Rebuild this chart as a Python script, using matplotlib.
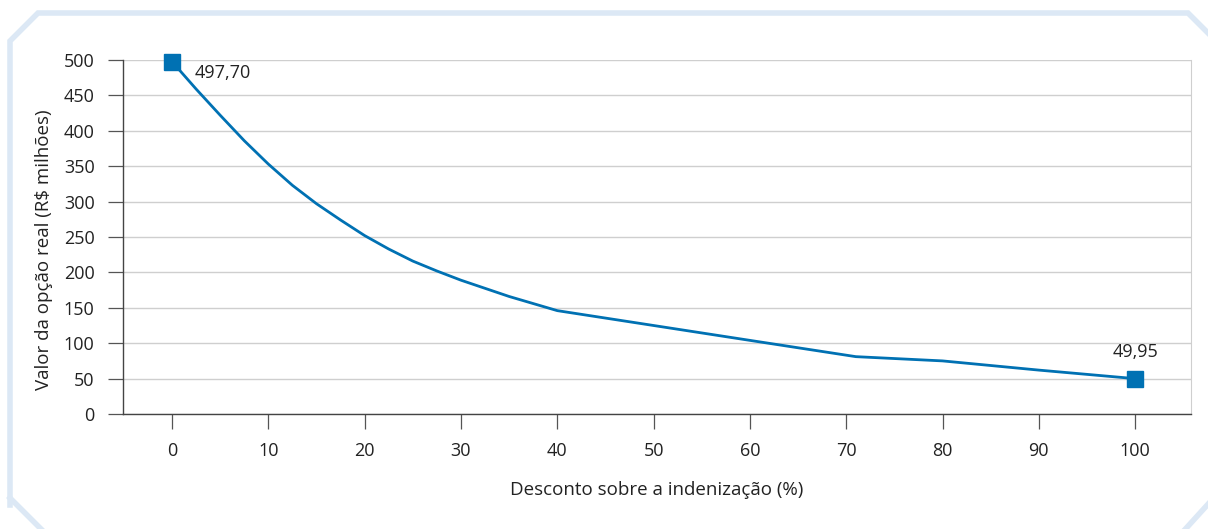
import matplotlib
matplotlib.use("Agg")
import matplotlib.pyplot as plt
from matplotlib.lines import Line2D

plt.rcParams['font.family'] = ['Open Sans', 'DejaVu Sans']

# desconto (%) e valor da opção real (R$ milhões)
desconto = [0, 2.5, 5, 7.5, 10, 12.5, 15, 17.5, 20, 22.5, 25, 27.5, 30, 35, 40,
            50, 60, 71, 80, 90, 100]
valor = [497.70, 459, 422, 386, 353, 323, 297, 274, 252, 233, 216, 202, 189, 166, 146,
         125, 104, 81, 75, 62, 49.95]
yticks = [0, 50, 100, 150, 200, 250, 300, 350, 400, 450, 500]
xticks = [0, 10, 20, 30, 40, 50, 60, 70, 80, 90, 100]

BLUE = "#0071b3"
TXT = "#222222"
W, H = 1208, 529

fig = plt.figure(figsize=(W / 100, H / 100), dpi=100)
ax = fig.add_axes([123 / W, 1 - 414 / H, (1191 - 123) / W, (414 - 60) / H])

ax.plot(desconto, valor, color=BLUE, linewidth=2.0, zorder=3, clip_on=False,
        solid_joinstyle="round")
ax.plot([desconto[0], desconto[-1]], [valor[0], valor[-1]], linestyle="none",
        marker="s", markersize=11, color=BLUE, zorder=4, clip_on=False)

ax.annotate("497,70", (desconto[0], valor[0]), xytext=(16, -8), textcoords="offset points",
            ha="left", va="center", fontsize=13, color=TXT)
ax.annotate("49,95", (desconto[-1], valor[-1]), xytext=(0, 19), textcoords="offset points",
            ha="center", va="center", fontsize=13, color=TXT)

ax.set_xlim(-5.09, 105.8)
ax.set_ylim(0, 500)
ax.set_xticks(xticks)
ax.set_yticks(yticks)
ax.grid(True, axis="y", color="#cfcfcf", linewidth=1.0)
ax.set_axisbelow(True)

ax.spines["top"].set_visible(False)
ax.spines["right"].set_color("#cfcfcf")
ax.spines["left"].set_color("#444444")
ax.spines["bottom"].set_color("#444444")
ax.spines["left"].set_linewidth(1.0)
ax.spines["bottom"].set_linewidth(1.0)

ax.tick_params(axis="both", direction="out", length=10.5, width=0.9, color="#555555",
               labelsize=13, labelcolor=TXT, pad=10)

ax.set_xlabel("Desconto sobre a indenização (%)", fontsize=13.5, color=TXT)
ax.set_ylabel("Valor da opção real (R$ milhões)", fontsize=13.5, color=TXT)
ax.xaxis.set_label_coords(0.5, -0.19)
ax.yaxis.set_label_coords(-0.066, 0.463)

# moldura
FRAME = "#dce8f5"
def px(pts):
    return [p[0] / W for p in pts], [1 - p[1] / H for p in pts]

for pts in [[(10, 505), (10, 41), (38, 13), (1188, 13), (1230, 55)],
            [(10, 498), (45, 533)],
            [(1230, 480), (1180, 535)]]:
    xs, ys = px(pts)
    fig.add_artist(Line2D(xs, ys, transform=fig.transFigure, color=FRAME,
                          linewidth=4, solid_joinstyle="miter", zorder=0))

fig.savefig("out.png", dpi=100)
